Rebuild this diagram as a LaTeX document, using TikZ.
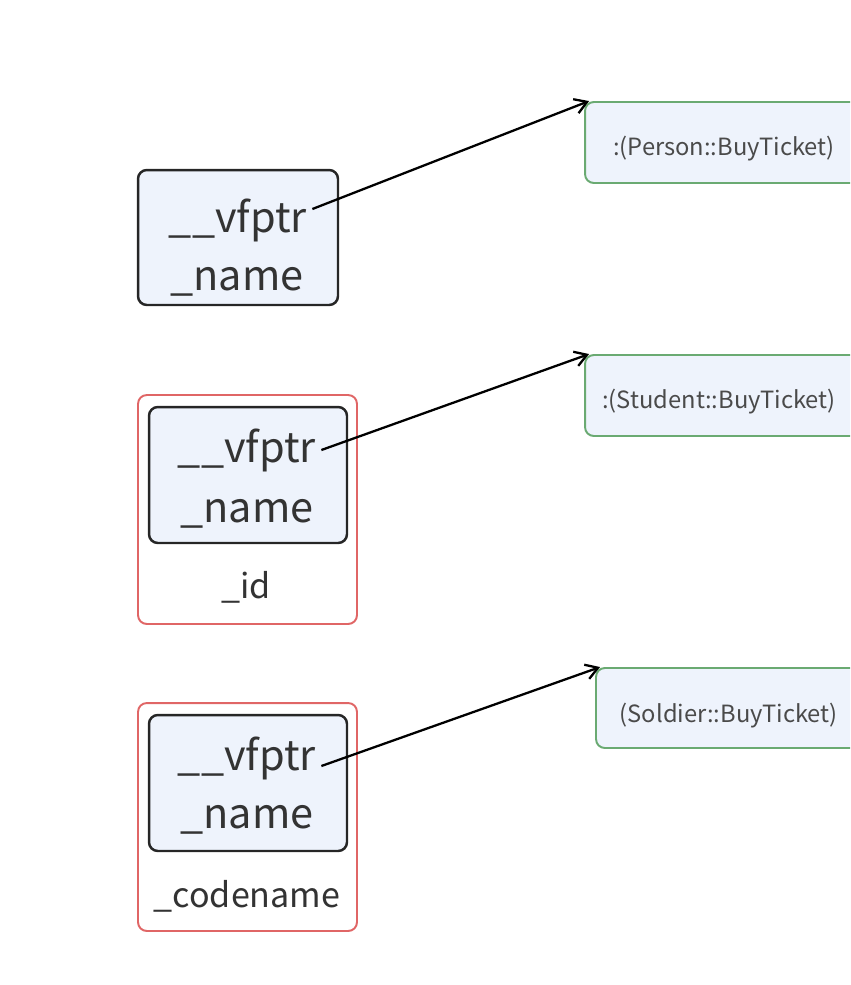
\documentclass[tikz,border=0pt]{standalone}
\usepackage{fontspec}
\setmainfont{Noto Sans CJK SC}
\usepackage{xcolor}
\usetikzlibrary{arrows.meta}

\definecolor{boxfill}{HTML}{EEF3FC}
\definecolor{boxline}{HTML}{262626}
\definecolor{objred}{HTML}{E06666}
\definecolor{tabgreen}{HTML}{6AAA72}
\definecolor{txt}{HTML}{333333}
\definecolor{fntxt}{HTML}{4A4A4A}

\begin{document}
\begin{tikzpicture}[x=0.02cm, y=-0.02cm,
    objbox/.style={draw=boxline, line width=1.4pt, rounded corners=5pt, fill=boxfill},
    outbox/.style={draw=objred, line width=1.1pt, rounded corners=5pt},
    tabbox/.style={draw=tabgreen, line width=1.1pt, rounded corners=5pt, fill=boxfill},
    member/.style={font=\fontsize{23.6}{29}\selectfont, text=txt, inner sep=0pt, anchor=base},
    extra/.style={member, font=\fontsize{19.4}{24}\selectfont},
    fname/.style={font=\fontsize{13.5}{17}\selectfont, text=fntxt, inner sep=0pt, anchor=base east},
    ptr/.style={-{Straight Barb[length=2.4mm, width=3mm]}, line width=1.3pt},
]
\clip (0,0) rectangle (850,985);

% Person object
\node[objbox, minimum width=4cm, minimum height=2.7cm] (pbox) at (238,237.5) {};
\node[member] (pvf) at (238,232) {\_\_vfptr};
\node[member] (pname) at (237,290) {\_name};

% Student object
\node[outbox, minimum width=4.38cm, minimum height=4.58cm] (sout) at (247.5,509.5) {};
\node[objbox, minimum width=3.96cm, minimum height=2.72cm] (sbox) at (248,475) {};
\node[member] (svf) at (247,462) {\_\_vfptr};
\node[member] (sname) at (247,522) {\_name};
\node[extra] (sid) at (246,598) {\_id};

% Soldier object
\node[outbox, minimum width=4.38cm, minimum height=4.56cm] (cout) at (247.5,817) {};
\node[objbox, minimum width=3.96cm, minimum height=2.72cm] (cbox) at (248,783) {};
\node[member] (cvf) at (247,770) {\_\_vfptr};
\node[member] (cname) at (247,828) {\_name};
\node[extra] (ccode) at (247,907) {\_codename};

% Virtual tables
\node[tabbox, minimum width=6.3cm, minimum height=1.62cm] (ptab) at (742.5,142.5) {};
\node[tabbox, minimum width=6.3cm, minimum height=1.62cm] (stab) at (742.5,395.5) {};
\node[tabbox, minimum width=6.08cm, minimum height=1.6cm] (ctab) at (748,708) {};

\begin{scope}
\clip (614.5,100) rectangle (850,185);
\node[fname] (pfn) at (835,155) {:(Person::BuyTicket)};
\end{scope}
\node[fname] (sfn) at (836,408) {:(Student::BuyTicket)};
\node[fname] (cfn) at (838,722) {(Soldier::BuyTicket)};

% Pointers
\foreach \o/\dy in {p/0.46, s/0.24, c/0.08}
    \draw[ptr] ([xshift=0.1cm, yshift=\dy cm]\o vf.base east) -- ([xshift=0.1cm]\o tab.north west);

\end{tikzpicture}
\end{document}
